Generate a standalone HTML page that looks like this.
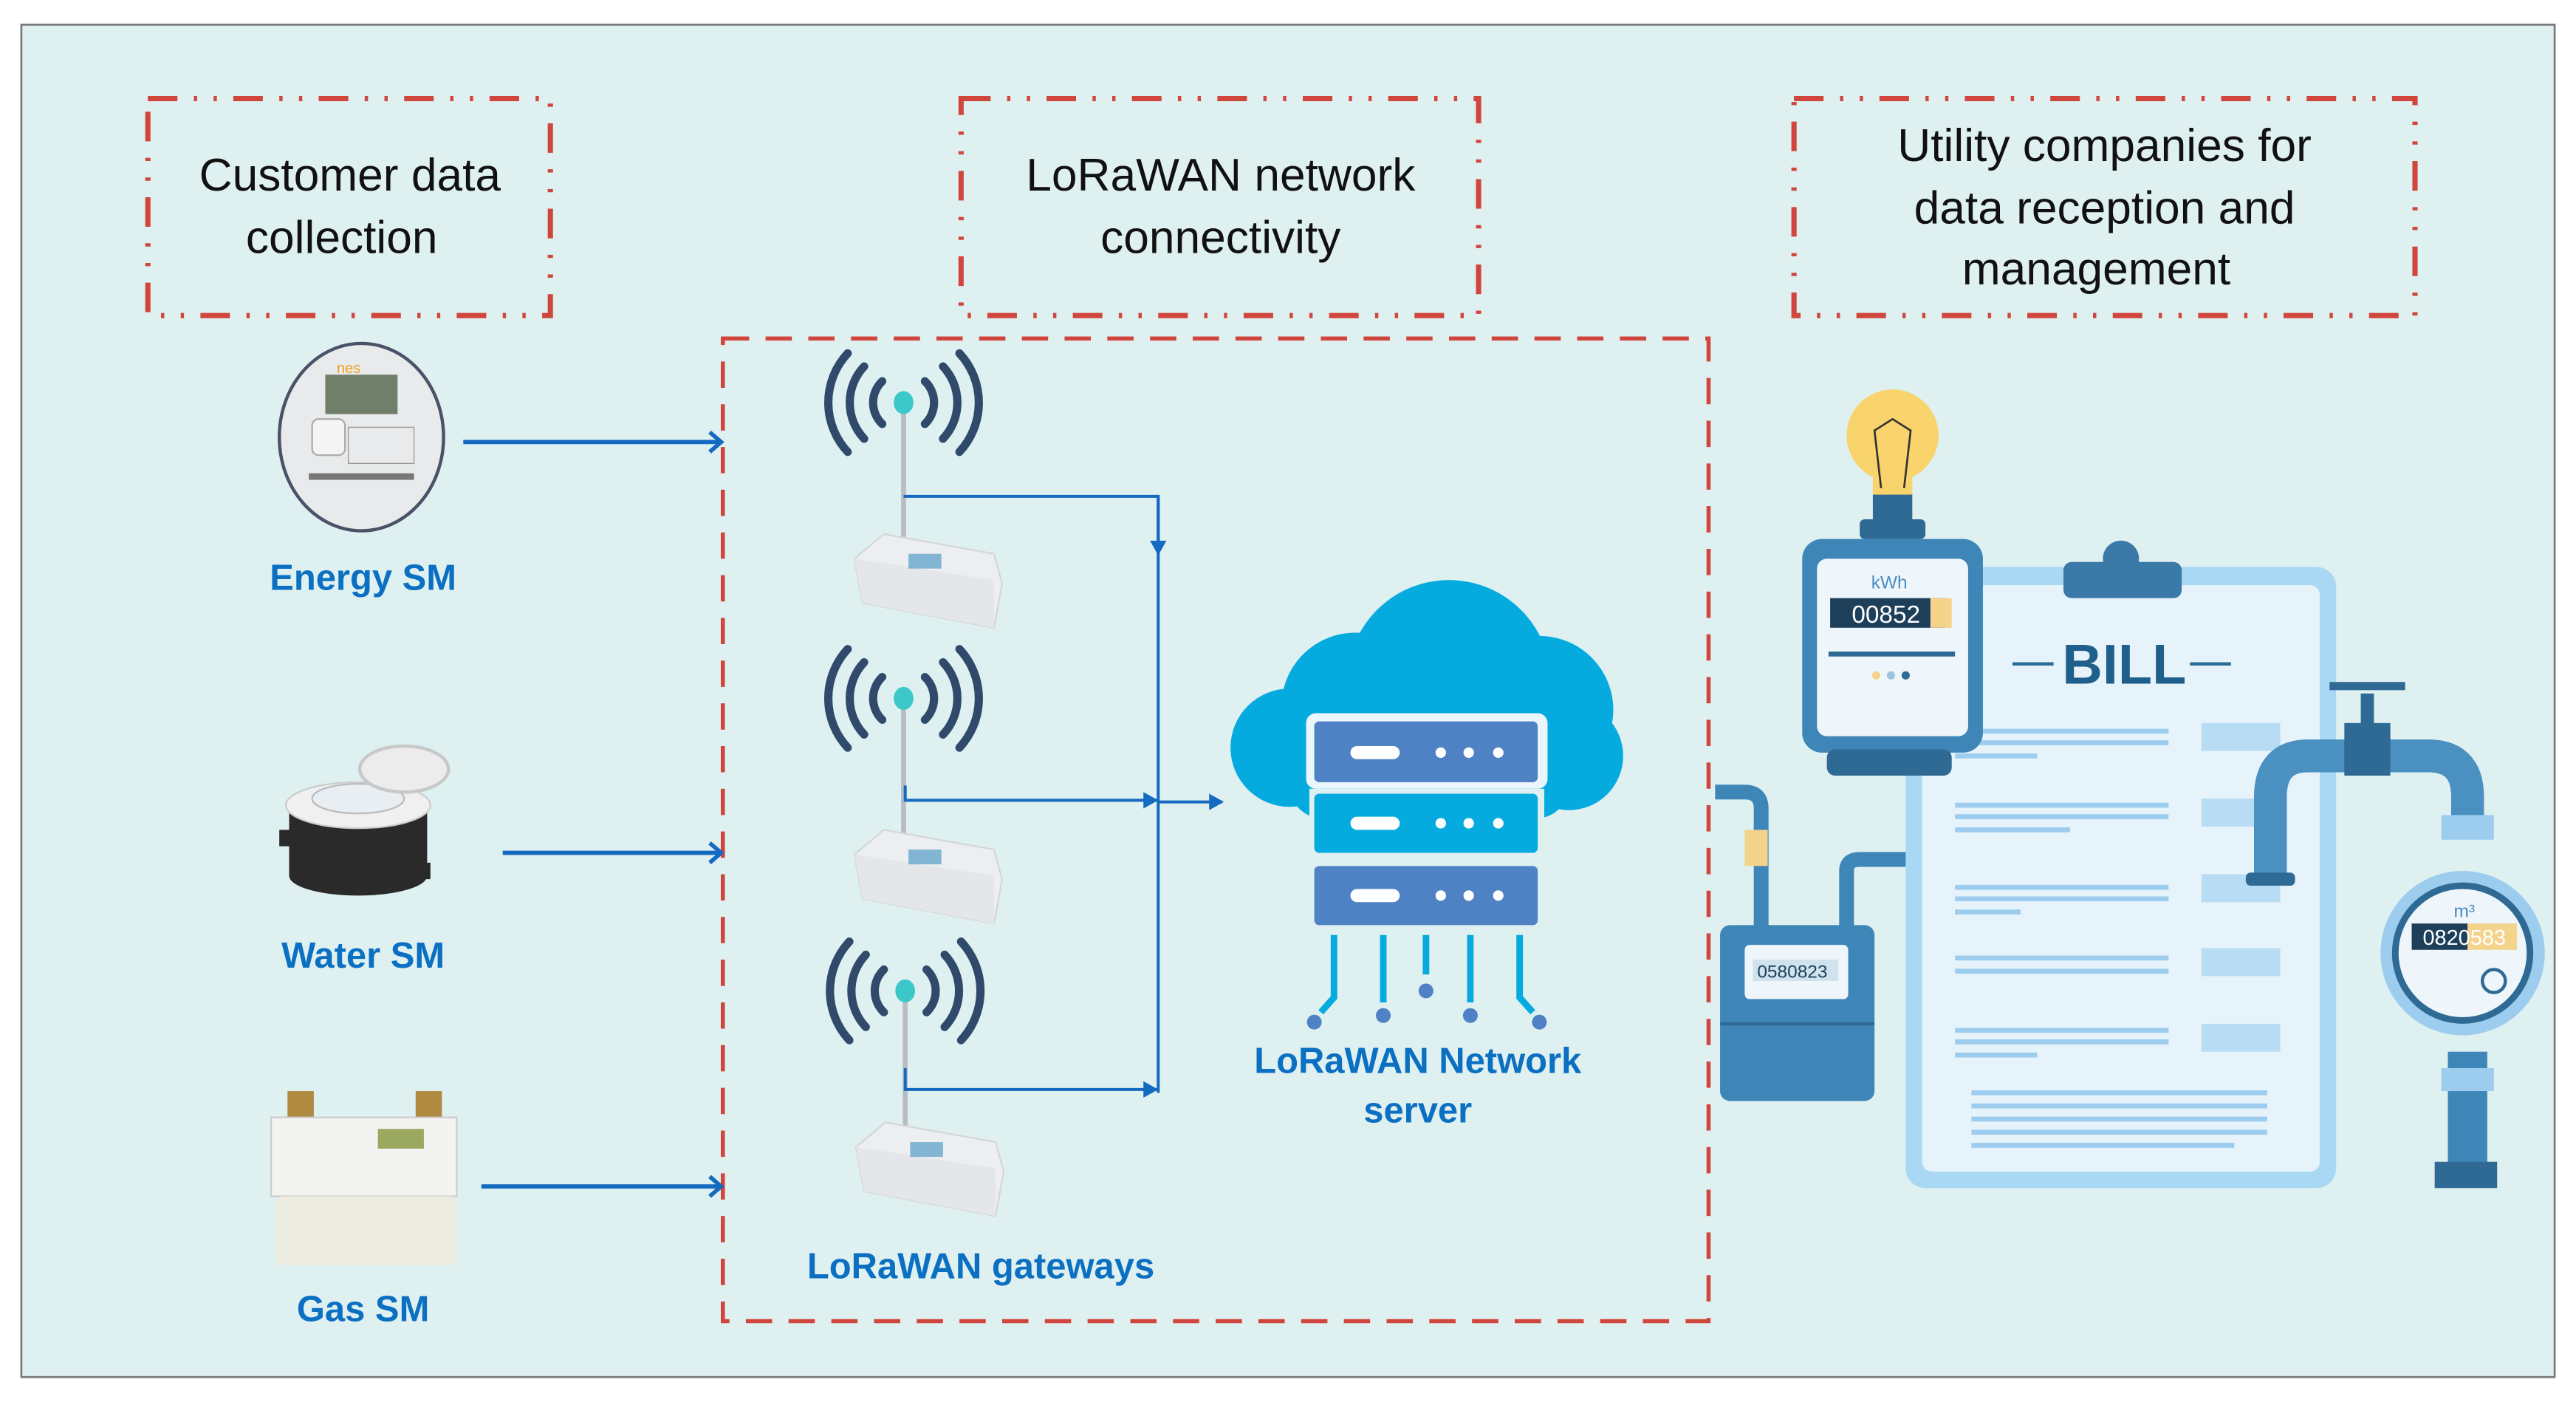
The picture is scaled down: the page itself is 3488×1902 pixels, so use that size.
<!DOCTYPE html>
<html><head><meta charset="utf-8"><style>
html,body{margin:0;padding:0;background:#fff;}
svg{display:block;}
text{font-family:"Comic Sans MS","Liberation Sans",sans-serif;}
</style></head><body>
<svg width="3488" height="1902" viewBox="0 0 1568 855" xmlns="http://www.w3.org/2000/svg">
<defs>
<marker id="ar" markerWidth="10" markerHeight="10" refX="8" refY="5" orient="auto" markerUnits="userSpaceOnUse"><path d="M0,0 L9,5 L0,10 z" fill="#1469c0"/></marker>
<marker id="ao" markerWidth="12" markerHeight="14" refX="9" refY="7" orient="auto" markerUnits="userSpaceOnUse"><path d="M2,1 L9,7 L2,13" fill="none" stroke="#1469c0" stroke-width="2.5"/></marker>
<g id="gw">
  <g fill="none" stroke="#2f4a6a" stroke-width="5" stroke-linecap="round">
    <path d="M-13,-13 A18,18 0 0 0 -13,13"/><path d="M13,-13 A18,18 0 0 1 13,13"/>
    <path d="M-24,-22 A32,32 0 0 0 -24,22"/><path d="M24,-22 A32,32 0 0 1 24,22"/>
    <path d="M-34,-30 A44,44 0 0 0 -34,30"/><path d="M34,-30 A44,44 0 0 1 34,30"/>
  </g>
  <line x1="0" y1="0" x2="0" y2="85" stroke="#b8bcc4" stroke-width="3"/>
  <ellipse cx="0" cy="0" rx="6" ry="7" fill="#3cc8c8"/>
  <path d="M-30,95 L-12,80 L55,92 L60,110 L55,137 L-25,122 Z" fill="#eceef0" stroke="#d4d6da"/>
  <path d="M-30,95 L55,108 L55,137 L-25,122 Z" fill="#e4e6ea"/>
  <rect x="3" y="92" width="20" height="9" fill="#3a8fc0" opacity="0.6"/>
</g>
</defs>
<rect x="0" y="0" width="1568" height="855" fill="#fff"/>
<rect x="13" y="15" width="1542" height="823" fill="#dff0f1" stroke="#777" stroke-width="1.2"/>

<!-- header boxes -->
<g fill="none" stroke="#d0463c" stroke-width="3.2" stroke-dasharray="18,10,2,10,2,10">
<rect x="90" y="60" width="245" height="132"/>
<rect x="585" y="60" width="315" height="132"/>
<rect x="1092" y="60" width="378" height="132"/>
</g>
<g font-size="28" fill="#111" text-anchor="middle">
<text x="213" y="116">Customer data</text><text x="208" y="154">collection</text>
<text x="743" y="116">LoRaWAN network</text><text x="743" y="154">connectivity</text>
<text x="1281" y="98">Utility companies for</text><text x="1281" y="136">data reception and</text><text x="1276" y="173">management</text>
</g>

<!-- big dashed -->
<rect x="440" y="206" width="600" height="598" fill="none" stroke="#d0463c" stroke-width="2.5" stroke-dasharray="16,10"/>

<!-- left meters -->
<ellipse cx="220" cy="266" rx="50" ry="57" fill="#e9eaeb" stroke="#4a5268" stroke-width="2"/>
<rect x="198" y="228" width="44" height="24" fill="#6f7f6a"/>
<text x="205" y="227" font-size="9" fill="#f0a020" font-family="Liberation Sans">nes</text>
<rect x="190" y="255" width="20" height="22" rx="4" fill="#f4f4f4" stroke="#aaa"/>
<rect x="212" y="260" width="40" height="22" fill="none" stroke="#999" stroke-width="0.6"/>
<rect x="188" y="288" width="64" height="4" fill="#777"/>
<g fill="#2a2a2a"><ellipse cx="218" cy="493" rx="42" ry="12"/><rect x="176" y="493" width="84" height="40"/><ellipse cx="218" cy="533" rx="42" ry="12"/><rect x="170" y="505" width="14" height="10"/><rect x="248" y="525" width="14" height="10"/></g>
<ellipse cx="218" cy="490" rx="44" ry="14" fill="#f0f0f0" stroke="#ccc"/>
<ellipse cx="218" cy="486" rx="28" ry="9" fill="#e8eef2" stroke="#bbb"/>
<ellipse cx="246" cy="468" rx="27" ry="14" fill="#ececec" stroke="#c8c8c8" stroke-width="2"/>
<rect x="175" y="664" width="16" height="18" fill="#b08a40"/><rect x="253" y="664" width="16" height="18" fill="#b08a40"/>
<rect x="165" y="680" width="113" height="48" fill="#f3f3f1" stroke="#ccc"/>
<rect x="230" y="687" width="28" height="12" fill="#9aa860"/>
<rect x="168" y="728" width="110" height="42" rx="4" fill="#ecebe0"/>
<g font-size="22" font-weight="bold" fill="#0b6fc2" text-anchor="middle">
<text x="221" y="359">Energy SM</text><text x="221" y="589">Water SM</text><text x="221" y="804">Gas SM</text>
<text x="597" y="778">LoRaWAN gateways</text>
<text x="863" y="653">LoRaWAN Network</text><text x="863" y="683">server</text>
</g>
<g stroke="#1469c0" stroke-width="2.6" fill="none">
<line x1="282" y1="269" x2="439" y2="269" marker-end="url(#ao)"/>
<line x1="306" y1="519" x2="439" y2="519" marker-end="url(#ao)"/>
<line x1="293" y1="722" x2="439" y2="722" marker-end="url(#ao)"/>
</g>

<!-- gateways -->
<use href="#gw" x="550" y="245"/>
<use href="#gw" x="550" y="425"/>
<use href="#gw" x="551" y="603"/>
<g stroke="#1469c0" stroke-width="1.8" fill="none">
<polyline points="550,302 705,302 705,665"/>
<line x1="705" y1="302" x2="705" y2="337" marker-end="url(#ar)"/>
<polyline points="551,478 551,487 704,487" marker-end="url(#ar)"/>
<line x1="705" y1="488" x2="744" y2="488" marker-end="url(#ar)"/>
<polyline points="551,650 551,663 704,663" marker-end="url(#ar)"/>
</g>

<!-- cloud -->
<g fill="#05aadf">
<circle cx="882" cy="415" r="62"/>
<circle cx="825" cy="430" r="45"/>
<circle cx="937" cy="432" r="45"/>
<circle cx="785" cy="455" r="36"/>
<circle cx="955" cy="460" r="33"/>
<rect x="785" y="440" width="170" height="58" rx="20"/>
</g>
<rect x="795" y="434" width="147" height="46" rx="6" fill="#eaf6fb"/>
<rect x="800" y="439" width="136" height="37" rx="3" fill="#4f82c4"/>
<rect x="797" y="480" width="143" height="43" fill="#dff0f1"/>
<rect x="800" y="483" width="136" height="36" rx="3" fill="#05aadf"/>
<rect x="800" y="527" width="136" height="36" rx="3" fill="#4f82c4"/>
<g fill="#fff">
<rect x="822" y="454" width="30" height="8" rx="4"/><circle cx="877" cy="458" r="3.2"/><circle cx="894" cy="458" r="3.2"/><circle cx="912" cy="458" r="3.2"/>
<rect x="822" y="497" width="30" height="8" rx="4"/><circle cx="877" cy="501" r="3.2"/><circle cx="894" cy="501" r="3.2"/><circle cx="912" cy="501" r="3.2"/>
<rect x="822" y="541" width="30" height="8" rx="4"/><circle cx="877" cy="545" r="3.2"/><circle cx="894" cy="545" r="3.2"/><circle cx="912" cy="545" r="3.2"/>
</g>
<g stroke="#05aadf" stroke-width="4" fill="none">
<polyline points="812,569 812,607 804,616"/><line x1="842" y1="569" x2="842" y2="610"/><line x1="868" y1="569" x2="868" y2="593"/><line x1="895" y1="569" x2="895" y2="610"/><polyline points="925,569 925,607 933,616"/>
</g>
<g fill="#4f82c4"><circle cx="800" cy="622" r="4.5"/><circle cx="842" cy="618" r="4.5"/><circle cx="868" cy="603" r="4.5"/><circle cx="895" cy="618" r="4.5"/><circle cx="937" cy="622" r="4.5"/></g>

<!-- right illustration -->
<rect x="1160" y="345" width="262" height="378" rx="12" fill="#a8d8f4"/>
<rect x="1170" y="356" width="242" height="357" rx="6" fill="#e7f3fb"/>
<rect x="1256" y="342" width="72" height="22" rx="5" fill="#3b7aa8"/>
<circle cx="1291" cy="340" r="11" fill="#3b7aa8"/>
<text x="1293" y="416" font-family="Liberation Sans,sans-serif" font-size="34" font-weight="bold" fill="#1f5f8b" text-anchor="middle">BILL</text>
<g stroke="#2c6c98" stroke-width="2"><line x1="1225" y1="404" x2="1250" y2="404"/><line x1="1333" y1="404" x2="1358" y2="404"/></g>
<g stroke="#9ccdee" stroke-width="3">
<line x1="1190" y1="445" x2="1320" y2="445"/><line x1="1190" y1="452" x2="1320" y2="452"/><line x1="1190" y1="460" x2="1240" y2="460"/>
<line x1="1190" y1="490" x2="1320" y2="490"/><line x1="1190" y1="497" x2="1320" y2="497"/><line x1="1190" y1="505" x2="1260" y2="505"/>
<line x1="1190" y1="540" x2="1320" y2="540"/><line x1="1190" y1="547" x2="1320" y2="547"/><line x1="1190" y1="555" x2="1230" y2="555"/>
<line x1="1190" y1="583" x2="1320" y2="583"/><line x1="1190" y1="591" x2="1320" y2="591"/>
<line x1="1190" y1="627" x2="1320" y2="627"/><line x1="1190" y1="634" x2="1320" y2="634"/><line x1="1190" y1="642" x2="1240" y2="642"/>
<line x1="1200" y1="665" x2="1380" y2="665"/><line x1="1200" y1="673" x2="1380" y2="673"/><line x1="1200" y1="681" x2="1380" y2="681"/><line x1="1200" y1="689" x2="1380" y2="689"/><line x1="1200" y1="697" x2="1360" y2="697"/>
</g>
<g fill="#b7dcf3">
<rect x="1340" y="440" width="48" height="17"/><rect x="1340" y="486" width="48" height="17"/><rect x="1340" y="532" width="48" height="17"/><rect x="1340" y="577" width="48" height="17"/><rect x="1340" y="623" width="48" height="17"/>
</g>
<!-- bulb + electric meter -->
<circle cx="1152" cy="265" r="28" fill="#f9d36b"/>
<rect x="1140" y="285" width="24" height="18" fill="#f9d36b"/>
<path d="M1145,297 L1141,262 L1152,255 L1163,262 L1159,297" fill="none" stroke="#333" stroke-width="1.2"/>
<rect x="1140" y="301" width="24" height="20" fill="#2f6a94"/>
<rect x="1132" y="316" width="40" height="12" rx="3" fill="#2f6a94"/>
<rect x="1097" y="328" width="110" height="130" rx="12" fill="#3f86b8"/>
<rect x="1112" y="456" width="76" height="16" rx="5" fill="#2f6a94"/>
<rect x="1106" y="340" width="92" height="108" rx="6" fill="#eef6fb"/>
<text x="1150" y="358" font-family="Liberation Sans,sans-serif" font-size="11" fill="#4a8cc0" text-anchor="middle">kWh</text>
<rect x="1114" y="364" width="70" height="18" fill="#1d3f5a"/><rect x="1175" y="364" width="13" height="18" fill="#f4d38b"/>
<text x="1148" y="379" font-family="Liberation Mono,monospace" font-size="15" fill="#fff" text-anchor="middle">00852</text>
<line x1="1113" y1="398" x2="1190" y2="398" stroke="#2f6a94" stroke-width="3"/>
<circle cx="1142" cy="411" r="2.5" fill="#f4d38b"/><circle cx="1151" cy="411" r="2.5" fill="#9cc4e0"/><circle cx="1160" cy="411" r="2.5" fill="#2f6a94"/>
<!-- gas meter & pipes -->
<path d="M1044,482 L1062,482 Q1072,482 1072,492 L1072,570" fill="none" stroke="#3f86b8" stroke-width="9"/>
<path d="M1124,570 L1124,530 Q1124,523 1132,523 L1160,523" fill="none" stroke="#3f86b8" stroke-width="9"/>
<rect x="1062" y="505" width="14" height="22" fill="#f4d38b"/>
<rect x="1047" y="563" width="94" height="107" rx="6" fill="#3f86b8"/>
<line x1="1047" y1="623" x2="1141" y2="623" stroke="#2f6a94" stroke-width="2"/>
<rect x="1062" y="575" width="63" height="33" rx="3" fill="#eef6fb"/>
<rect x="1067" y="584" width="52" height="13" fill="#cfe2ee"/>
<text x="1091" y="595" font-family="Liberation Mono,monospace" font-size="11" fill="#1d3f5a" text-anchor="middle">0580823</text>
<!-- water pipe -->
<path d="M1382,535 L1382,485 Q1382,460 1405,460 L1478,460 Q1502,460 1502,485 L1502,500" fill="none" stroke="#4a90c0" stroke-width="20"/>
<rect x="1367" y="531" width="30" height="8" rx="3" fill="#2f6a94"/>
<rect x="1427" y="440" width="28" height="32" fill="#2f6a94"/>
<rect x="1437" y="422" width="8" height="20" fill="#2f6a94"/>
<rect x="1418" y="415" width="46" height="5" fill="#2f6a94"/>
<rect x="1486" y="496" width="32" height="15" fill="#9ccdee"/>
<rect x="1490" y="640" width="24" height="75" fill="#3f86b8"/>
<rect x="1486" y="650" width="32" height="14" fill="#9ccdee"/>
<rect x="1482" y="707" width="38" height="16" fill="#2f6a94"/>
<circle cx="1499" cy="580" r="50" fill="#9ccdee"/>
<circle cx="1499" cy="580" r="43" fill="#2f6a94"/>
<circle cx="1499" cy="580" r="39" fill="#eef6fb"/>
<text x="1500" y="558" font-family="Liberation Sans,sans-serif" font-size="11" fill="#4a8cc0" text-anchor="middle">m³</text>
<rect x="1468" y="562" width="34" height="16" fill="#1d3f5a"/><rect x="1502" y="562" width="30" height="16" fill="#f4d38b"/>
<text x="1500" y="575" font-family="Liberation Mono,monospace" font-size="13" fill="#fff" text-anchor="middle">0820583</text>
<circle cx="1518" cy="597" r="7" fill="none" stroke="#2f6a94" stroke-width="2"/>
</svg>
</body></html>
